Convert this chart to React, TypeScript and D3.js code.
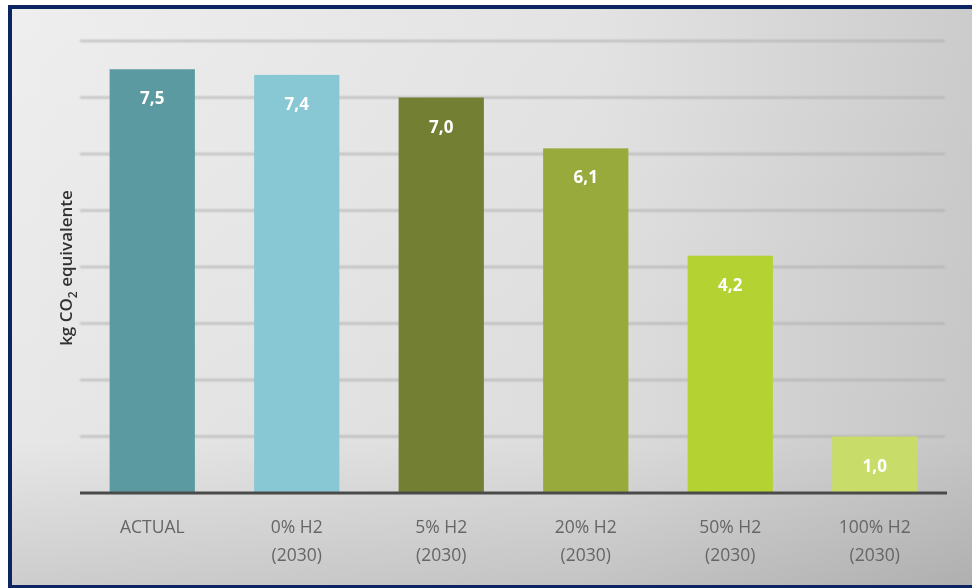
import React from "react";
import * as d3 from "d3";

const categories = ["ACTUAL", "0% H2|(2030)", "5% H2|(2030)", "20% H2|(2030)", "50% H2|(2030)", "100% H2|(2030)"];
const values = [7.5, 7.4, 7.0, 6.1, 4.2, 1.0];
const valueLabels = ["7,5", "7,4", "7,0", "6,1", "4,2", "1,0"];
const barColors = ["#5a9aa0", "#88c8d4", "#737f32", "#98aa3c", "#b4d232", "#c8dc6a"];
const gridTicks = [1, 2, 3, 4, 5, 6, 7, 8];

export default function App() {
  const W = 972, H = 588;
  const left = 80, right = 947, top = 41, bottom = 493;
  const x = d3.scaleBand<string>().domain(categories).range([left, right]).paddingInner(0.41).paddingOuter(0.205);
  const y = d3.scaleLinear().domain([0, 8]).range([bottom, top]);
  const font = "'Open Sans', 'DejaVu Sans', sans-serif";
  return (
    <svg width={W} height={H} style={{ position: "absolute", left: 0, top: 0, display: "block" }}>
      <defs>
        <linearGradient id="bgH" x1="0" y1="0" x2="1" y2="0">
          <stop offset="0" stopColor="#eeeeee" />
          <stop offset="0.6" stopColor="#e3e3e3" />
          <stop offset="1" stopColor="#cbcbcb" />
        </linearGradient>
        <linearGradient id="bgV" x1="0" y1="0" x2="0" y2="1">
          <stop offset="0" stopColor="#000" stopOpacity="0" />
          <stop offset="0.75" stopColor="#000" stopOpacity="0.03" />
          <stop offset="1" stopColor="#000" stopOpacity="0.14" />
        </linearGradient>
        <filter id="blur" x="-5%" y="-200%" width="110%" height="500%">
          <feGaussianBlur stdDeviation="0.9" />
        </filter>
        <filter id="soft" x="-10%" y="-10%" width="120%" height="120%">
          <feGaussianBlur stdDeviation="0.35" />
        </filter>
      </defs>
      <rect x={0} y={0} width={W} height={H} fill="#ffffff" />
      <rect x={8} y={5} width={W} height={583} fill="#0d2463" />
      <rect x={12} y={9} width={W} height={576} fill="url(#bgH)" />
      <rect x={12} y={9} width={W} height={576} fill="url(#bgV)" />
      <g filter="url(#blur)">
        {gridTicks.map((t) => (
          <line key={t} x1={left} x2={right - 2} y1={y(t)} y2={y(t)} stroke="#a8a8a8" strokeWidth={1.6} />
        ))}
      </g>
      {categories.map((c, i) => {
        const bx = x(c)!;
        const by = y(values[i]);
        return (
          <g key={c}>
            <rect x={bx} y={by} width={x.bandwidth()} height={bottom - by} fill={barColors[i]} />
            <text x={bx + x.bandwidth() / 2} y={by + 35} textAnchor="middle" fill="#ffffff" fontFamily={font} fontWeight={700} fontSize={17} filter="url(#soft)">
              {valueLabels[i]}
            </text>
          </g>
        );
      })}
      <line x1={left} x2={right} y1={bottom} y2={bottom} stroke="#4a4a4a" strokeWidth={3} />
      {categories.map((c) => {
        const parts = c.split("|");
        const cx = x(c)! + x.bandwidth() / 2;
        return (
          <text key={c} x={cx} textAnchor="middle" fill="#666666" fontFamily={font} fontSize={17.5} filter="url(#soft)">
            {parts.map((p, j) => (
              <tspan key={j} x={cx} y={533 + j * 28}>{p}</tspan>
            ))}
          </text>
        );
      })}
      <text transform={`translate(72, 268) rotate(-90)`} textAnchor="middle" fill="#333" fontFamily={font} fontWeight={600} fontSize={17} filter="url(#soft)">
        kg CO<tspan fontSize={12} dy={5}>2</tspan><tspan dy={-5}> equivalente</tspan>
      </text>
    </svg>
  );
}
